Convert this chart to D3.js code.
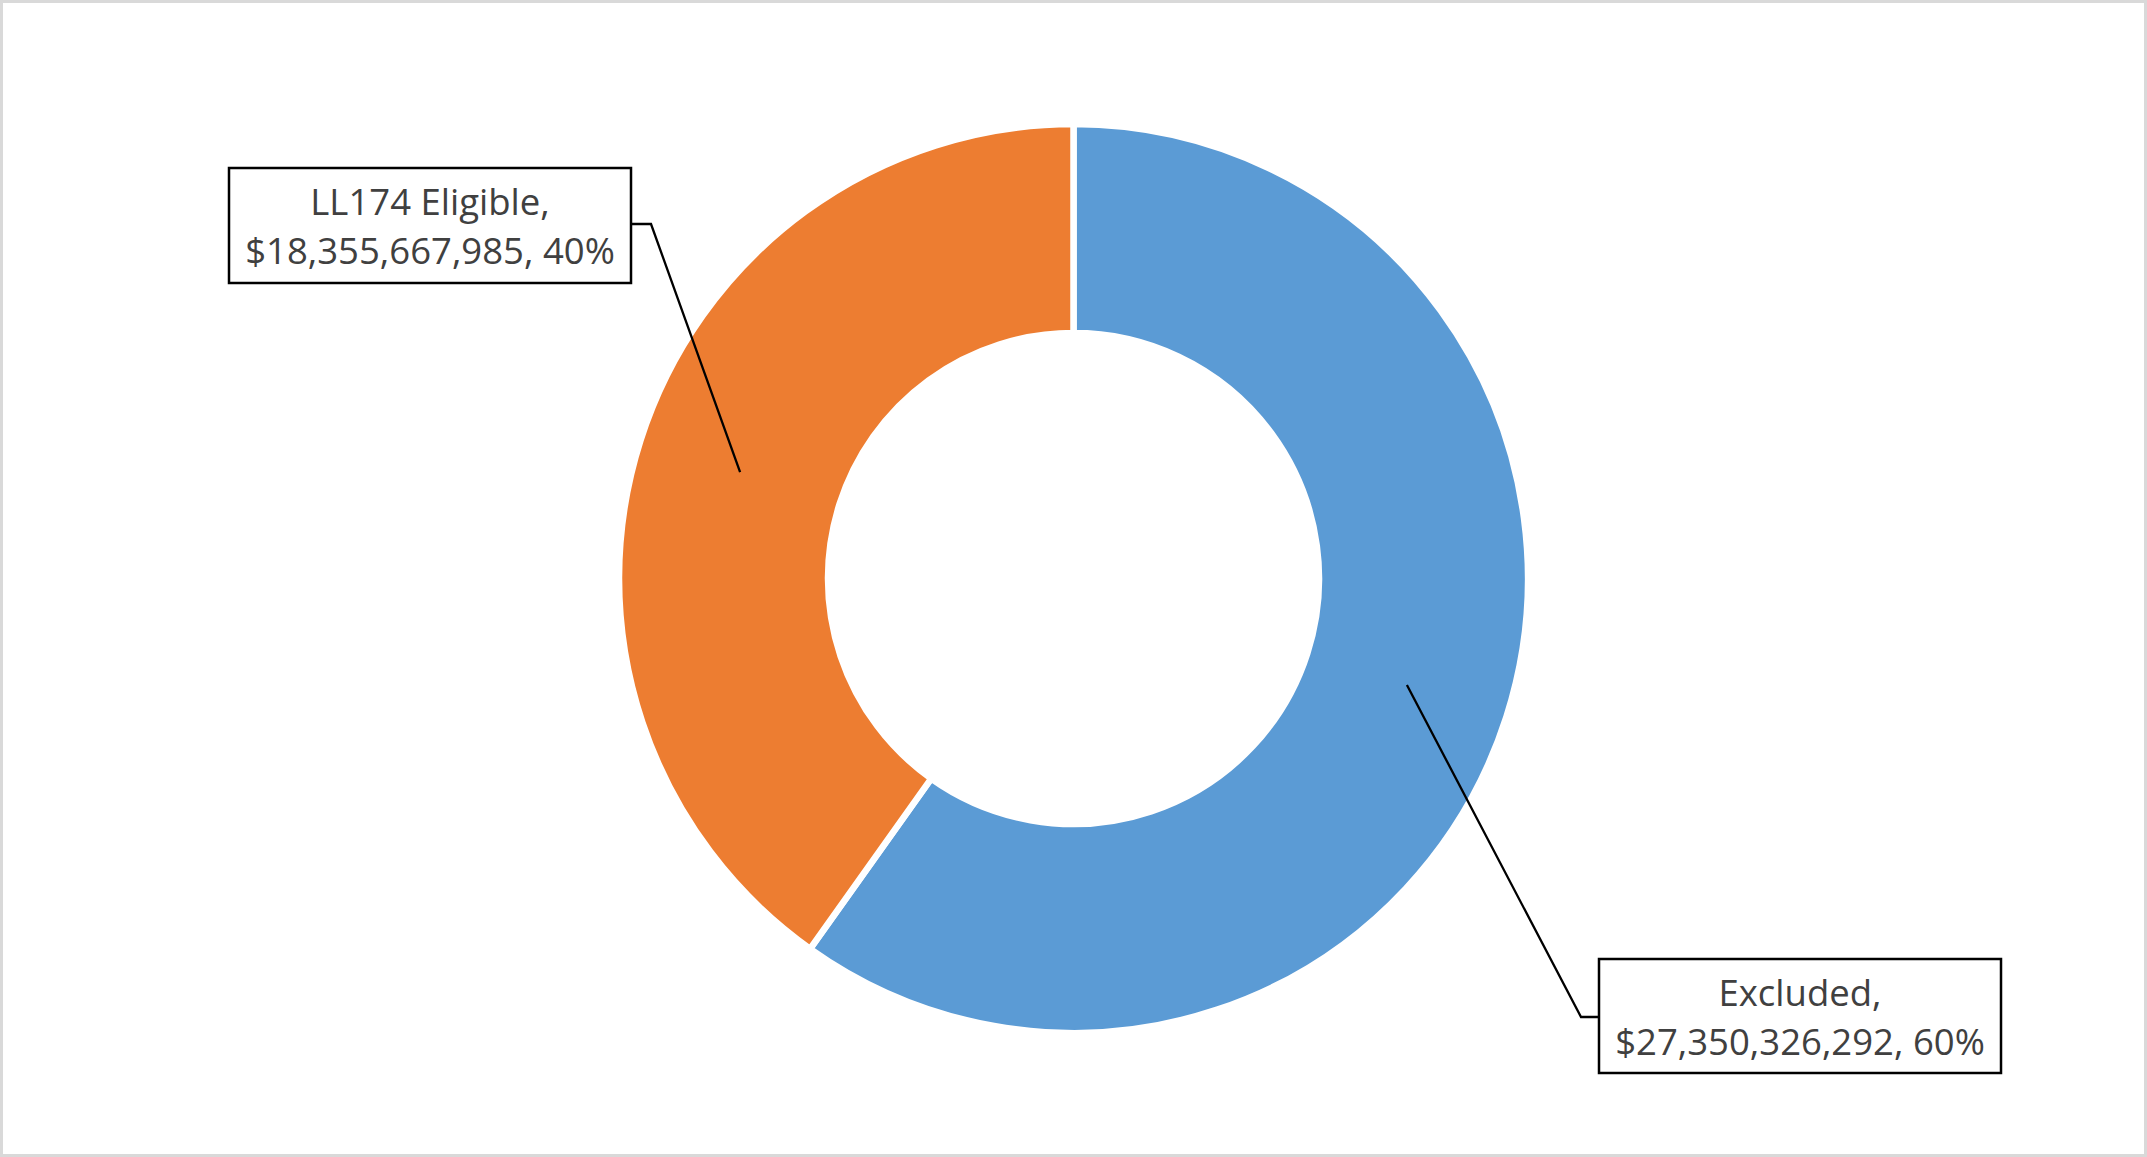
<!DOCTYPE html>
<html>
<head>
<meta charset="utf-8">
<script src="https://cdn.jsdelivr.net/npm/d3@7"></script>
<style>
  html, body { margin: 0; padding: 0; background: #fff; }
  svg { display: block; }
</style>
</head>
<body>
<svg id="chart" width="2147" height="1157"></svg>
<script>
// ---- data ----
const categories = ["Excluded", "LL174 Eligible"];
const values = [27350326292, 18355667985];
const percentLabels = ["60%", "40%"];
const colors = ["#5B9BD5", "#ED7D31"];

// ---- layout ----
const W = 2147, H = 1157;
const cx = 1073.5, cy = 578.5;
const outerR = 454.5, innerR = 245.5;

const svg = d3.select("#chart");

// outer chart border
svg.append("rect")
  .attr("x", 1.5).attr("y", 1.5)
  .attr("width", W - 3).attr("height", H - 3)
  .attr("fill", "#fff")
  .attr("stroke", "#d9d9d9")
  .attr("stroke-width", 3);

const pie = d3.pie().sort(null).value(d => d)(values);
const arc = d3.arc().innerRadius(innerR).outerRadius(outerR);
const midR = (innerR + outerR) / 2;
const midArc = d3.arc().innerRadius(midR).outerRadius(midR);

const g = svg.append("g").attr("transform", `translate(${cx},${cy})`);

g.selectAll("path.slice")
  .data(pie)
  .join("path")
  .attr("class", "slice")
  .attr("d", arc)
  .attr("fill", (d, i) => colors[i])
  .attr("stroke", "#fff")
  .attr("stroke-width", 6.5)
  .attr("stroke-linejoin", "miter");

// labels
const fmt = d3.format("$,");
// box specs relative to chart center (label placement)
const boxes = [
  { x: 1599 - cx, y: 959 - cy, w: 402, h: 114, side: "left", elbowX: 1581 - cx, elbowY: 1017 - cy },
  { x: 229 - cx, y: 168 - cy, w: 402, h: 115, side: "right", elbowX: 651 - cx, elbowY: 224 - cy }
];

pie.forEach((d, i) => {
  const b = boxes[i];
  const [px, py] = midArc.centroid(d);
  const attachX = b.side === "left" ? b.x : b.x + b.w;
  // leader line
  g.append("path")
    .attr("d", d3.line()([[px, py], [b.elbowX, b.elbowY], [attachX, b.elbowY]]))
    .attr("fill", "none")
    .attr("stroke", "#000")
    .attr("stroke-width", 2.3);
  // box
  g.append("rect")
    .attr("x", b.x).attr("y", b.y)
    .attr("width", b.w).attr("height", b.h)
    .attr("fill", "#fff")
    .attr("stroke", "#000")
    .attr("stroke-width", 2.5);
  const t = g.append("text")
    .attr("text-anchor", "middle")
    .attr("font-family", "'Open Sans', 'Noto Sans', sans-serif")
    .attr("font-size", 36.5)
    .attr("fill", "#404040");
  t.append("tspan")
    .attr("x", b.x + b.w / 2).attr("y", b.y + 47)
    .text(categories[i] + ",");
  t.append("tspan")
    .attr("x", b.x + b.w / 2).attr("y", b.y + 96)
    .text(fmt(values[i]) + ", " + percentLabels[i]);
});
</script>
</body>
</html>
